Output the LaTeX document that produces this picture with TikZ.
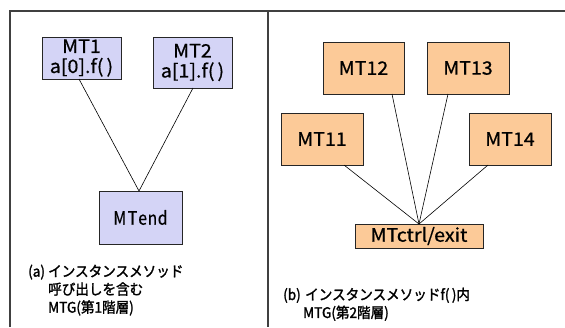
\documentclass[tikz,border=0pt]{standalone}
\usepackage{fontspec}
\setmainfont{Noto Sans CJK JP}
\newfontfamily\boxfont{Noto Sans CJK JP}[FakeBold=0.7,FakeStretch=1.06]
\newfontfamily\narrowfont{Noto Sans CJK JP}[FakeBold=0.4,FakeStretch=0.86]
\newfontfamily\capfont{Noto Sans CJK JP}[FakeBold=1.6,FakeStretch=0.93]
\begin{document}
\begin{tikzpicture}[x=1pt,y=-1pt,
  frameline/.style={draw=black!75,line width=1.3pt},
  taskbox/.style={draw=black!85,line width=0.8pt,minimum width=80pt,minimum height=52pt,
    align=center,font=\boxfont\fontsize{18.5}{20}\selectfont,inner sep=0pt},
  lvbox/.style={taskbox,fill=lav},
  pcbox/.style={taskbox,fill=peach},
  edge/.style={draw=black,line width=0.6pt},
  caption/.style={anchor=north west,align=left,font=\capfont\fontsize{14.6}{18}\selectfont,inner sep=0pt}]
\definecolor{lav}{RGB}{212,212,246}
\definecolor{peach}{RGB}{252,202,152}
\useasboundingbox (0,0) rectangle (565,327);
\fill[white] (0,0) rectangle (565,327);

% outer frame and divider
\coordinate (fl) at (10,327);
\coordinate (ftl) at (10,11);
\coordinate (ftr) at (565,11);
\coordinate (dt) at (268,11);
\coordinate (db) at (268,327);
\draw[frameline] (fl) -- (ftl) -- (ftr);
\draw[frameline,line width=1.8pt] (dt) -- (db);

% (a) first-level graph
\node[lvbox,minimum width=79pt,minimum height=42pt] (mt1) at (81.5,58) {MT1\\[0pt]a[0].f(\,)};
\node[lvbox,minimum width=79pt,minimum height=51pt] (mt2) at (192.5,62.5) {MT2\\[0pt]a[1].f(\,)};
\node[lvbox,minimum width=83pt,minimum height=53pt,font=\narrowfont\fontsize{18.5}{20}\selectfont] (mtend) at (140.5,217.5) {M\hspace{1.5pt}T\hspace{1pt}e\hspace{0.5pt}n\hspace{0.5pt}d};
\coordinate (ja) at (139,191);
\draw[edge] (79,79) -- (ja);
\draw[edge] (193,88) -- (ja);

\node[caption] (capa) at (28,264.5) {\makebox[20pt][l]{(a)}インスタンスメソッド\\\hspace*{20pt}呼び出しを含む\\\hspace*{20pt}MTG(第1階層)};

% (b) second-level graph
\node[pcbox,minimum width=81pt] (mt12) at (363.5,68) {MT12};
\node[pcbox,minimum width=82pt] (mt13) at (468,68) {MT13};
\node[pcbox,minimum width=82pt] (mt11) at (322,139) {MT11};
\node[pcbox,minimum width=82pt] (mt14) at (510,139) {MT14};
\node[pcbox,minimum width=128pt,minimum height=24pt] (ctrl) at (419,236) {MTctrl/exit};
\coordinate (jb) at (419,224);
\draw[edge] (344,165) -- (jb);
\draw[edge] (392,94) -- (jb);
\draw[edge] (448,94) -- (jb);
\draw[edge] (488,165) -- (jb);

\node[caption] (capb) at (283,287.5) {\makebox[22pt][l]{(b)}インスタンスメソッドf(\,)内\\\hspace*{20pt}MTG(第2階層)};
\end{tikzpicture}
\end{document}
